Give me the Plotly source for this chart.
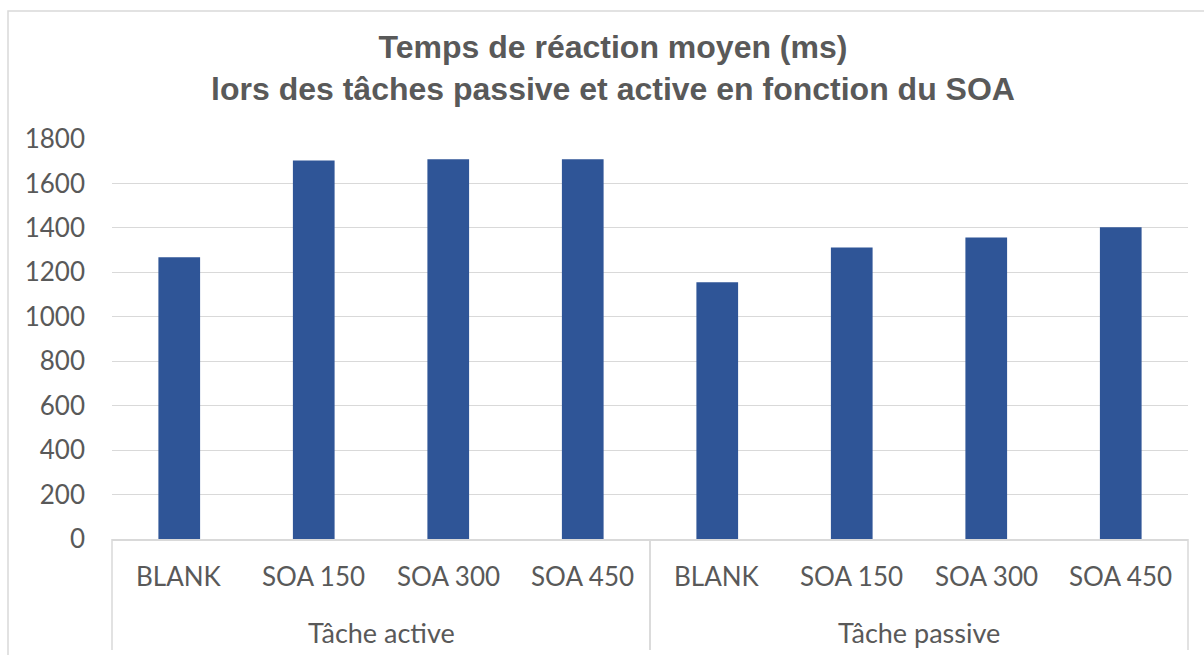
import plotly.graph_objects as go

groups = ["Tâche active"] * 4 + ["Tâche passive"] * 4
conditions = ["BLANK", "SOA 150", "SOA 300", "SOA 450"] * 2
values = [1268, 1703, 1709, 1709, 1155, 1312, 1357, 1403]
y_ticks = [0, 200, 400, 600, 800, 1000, 1200, 1400, 1600, 1800]

W, H = 1204, 655
L, R, T, B = 112, 16, 139, 116
pw, ph = W - L - R, H - T - B
grey = "#595959"
line_grey = "#d9d9d9"

fig = go.Figure()
fig.add_trace(go.Bar(
    x=[groups, conditions],
    y=values,
    marker=dict(color="#2F5597", line=dict(width=0)),
    hoverinfo="y",
))

n = len(conditions)
annotations = []
# level-1 labels (conditions)
for i, c in enumerate(conditions):
    annotations.append(dict(
        text=c, xref="paper", yref="paper",
        x=(i + 0.5) / n, y=(T + ph - 576) / ph,
        xanchor="center", yanchor="middle", showarrow=False,
        font=dict(family="Lato", size=26, color=grey),
    ))
# level-2 labels (groups)
uniq = list(dict.fromkeys(groups))
shapes = []
for g in uniq:
    idx = [i for i, gg in enumerate(groups) if gg == g]
    x0, x1 = idx[0] / n, (idx[-1] + 1) / n
    annotations.append(dict(
        text=g, xref="paper", yref="paper",
        x=(x0 + x1) / 2, y=(T + ph - 632) / ph,
        xanchor="center", yanchor="middle", showarrow=False,
        font=dict(family="Lato", size=27, color=grey),
    ))
    for xx in (x0, x1):
        shapes.append(dict(
            type="line", xref="paper", yref="paper",
            x0=xx, x1=xx, y0=0, y1=(T + ph - 650) / ph,
            line=dict(color=line_grey, width=1.5),
        ))

shapes.append(dict(
    type="rect", xref="paper", yref="paper",
    x0=(8 - L) / pw, x1=(W + 20 - L) / pw,
    y0=-(B + 20) / ph, y1=(H - B - 11) / ph,
    line=dict(color=line_grey, width=1.5),
    fillcolor="rgba(0,0,0,0)", layer="below",
))

fig.update_layout(
    width=W, height=H,
    margin=dict(l=L, r=R, t=T, b=B, autoexpand=False),
    paper_bgcolor="white",
    plot_bgcolor="white",
    bargap=0.69,
    showlegend=False,
    title=dict(
        text="Temps de réaction moyen (ms)<br>lors des tâches passive et active en fonction du SOA",
        font=dict(family="Liberation Sans", size=32, color=grey, weight="bold"),
        x=613 / W, xanchor="center",
        yref="container", y=1 - 58 / H, yanchor="middle",
    ),
    xaxis=dict(
        type="multicategory",
        showline=True, linecolor=line_grey, linewidth=1.5,
        showticklabels=False, showdividers=False,
        ticks="", showgrid=False, automargin=False,
    ),
    yaxis=dict(
        range=[0, 1800],
        tickvals=y_ticks,
        ticktext=[str(v) for v in y_ticks],
        showgrid=True, gridcolor=line_grey, gridwidth=1,
        zeroline=False, showline=False,
        tickfont=dict(family="Lato", size=26, color=grey),
        ticks="", ticklabelstandoff=26,
    ),
    annotations=annotations,
    shapes=shapes,
)

fig.write_html("out.html", config={"displayModeBar": False},
               post_script="document.body.style.margin='0';")
